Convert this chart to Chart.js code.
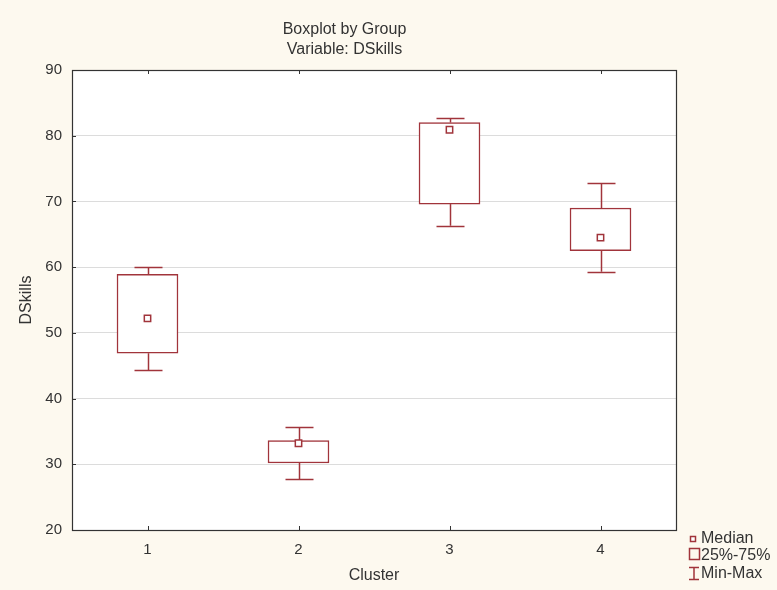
<!DOCTYPE html>
<html>
<head>
<meta charset="utf-8">
<script src="https://cdn.jsdelivr.net/npm/chart.js@4/dist/chart.umd.min.js"></script>
<style>
  html, body { margin: 0; padding: 0; background: #fdf9ef; }
  #wrap { width: 777px; height: 590px; position: relative; }
</style>
</head>
<body>
<div id="wrap"><canvas id="box"></canvas></div>
<script>
// ───── Boxplot by Group: DSkills per cluster ─────────────────────────────────
// Floating bars give the 25%-75% boxes, a point dataset gives the medians and a
// small plugin draws the min-max whiskers through the chart's own scales.

const CLUSTERS = ['1', '2', '3', '4'];
const MIN_VALS = [44.3, 27.7, 66.3, 59.3];
const Q1_VALS = [46.9, 30.2, 69.6, 62.5];
const MEDIAN_VALS = [52.2, 33.2, 80.9, 64.5];
const Q3_VALS = [58.9, 33.6, 82.0, 69.0];
const MAX_VALS = [60.0, 35.6, 82.7, 72.8];
const Y_TICKS = [20, 30, 40, 50, 60, 70, 80, 90];

const RED = '#a1343b';
const INK = '#333333';
const FONT = '"Liberation Sans", Arial, sans-serif';

// Background, white plot area, frame, inward tick marks and whiskers.
const framePlugin = {
  id: 'frame',
  beforeDraw(chart) {
    const { ctx, chartArea: a } = chart;
    ctx.save();
    ctx.fillStyle = '#fdf9ef';
    ctx.fillRect(0, 0, chart.width, chart.height);
    ctx.fillStyle = '#ffffff';
    ctx.fillRect(a.left, a.top, a.right - a.left, a.bottom - a.top);
    ctx.restore();
  },
  beforeDatasetsDraw(chart) {
    const { ctx, scales: { x, y } } = chart;
    ctx.save();
    ctx.strokeStyle = RED;
    ctx.lineWidth = 1.5;
    CLUSTERS.forEach((c, i) => {
      const px = Math.round(x.getPixelForValue(i)) + 0.5;
      const seg = (v0, v1) => {
        ctx.beginPath();
        ctx.moveTo(px, y.getPixelForValue(v0));
        ctx.lineTo(px, y.getPixelForValue(v1));
        ctx.stroke();
      };
      const cap = (v) => {
        const py = Math.round(y.getPixelForValue(v)) + 0.5;
        ctx.beginPath();
        ctx.moveTo(px - 14, py);
        ctx.lineTo(px + 14, py);
        ctx.stroke();
      };
      seg(Q3_VALS[i], MAX_VALS[i]);
      seg(MIN_VALS[i], Q1_VALS[i]);
      cap(MAX_VALS[i]);
      cap(MIN_VALS[i]);
    });
    ctx.restore();
  },
  afterDraw(chart) {
    const { ctx, chartArea: a, scales: { x, y } } = chart;
    ctx.save();
    ctx.strokeStyle = INK;
    ctx.lineWidth = 1.2;
    ctx.strokeRect(Math.round(a.left) + 0.5, Math.round(a.top) + 0.5,
      Math.round(a.right - a.left), Math.round(a.bottom - a.top));
    ctx.lineWidth = 1;
    ctx.beginPath();
    CLUSTERS.forEach((c, i) => {
      const px = Math.round(x.getPixelForValue(i)) + 0.5;
      ctx.moveTo(px, a.top); ctx.lineTo(px, a.top + 4);
      ctx.moveTo(px, a.bottom); ctx.lineTo(px, a.bottom - 4);
    });
    Y_TICKS.forEach((v) => {
      const py = Math.round(y.getPixelForValue(v)) + 0.5;
      ctx.moveTo(a.left, py); ctx.lineTo(a.left + 4, py);
    });
    ctx.stroke();

    // Legend, bottom right
    const lx = 689;
    ctx.strokeStyle = RED;
    ctx.lineWidth = 1.5;
    ctx.fillStyle = '#ffffff';
    ctx.fillRect(690, 536, 5, 5);
    ctx.strokeRect(690.5, 536.5, 5, 5);
    ctx.strokeRect(lx + 0.5, 548.5, 10, 11);
    ctx.beginPath();
    ctx.moveTo(lx, 567.5); ctx.lineTo(lx + 10, 567.5);
    ctx.moveTo(lx + 5, 567.5); ctx.lineTo(lx + 5, 579.5);
    ctx.moveTo(lx, 579.5); ctx.lineTo(lx + 10, 579.5);
    ctx.stroke();
    ctx.fillStyle = INK;
    ctx.font = '16px ' + FONT;
    ctx.textBaseline = 'middle';
    ctx.textAlign = 'left';
    ctx.fillText('Median', 701, 539);
    ctx.fillText('25%-75%', 701, 556);
    ctx.fillText('Min-Max', 701, 574);
    ctx.restore();
  },
};

new Chart(document.getElementById('box'), {
  type: 'bar',
  data: {
    labels: CLUSTERS,
    datasets: [
      {
        type: 'line',
        label: 'Median',
        data: MEDIAN_VALS,
        showLine: false,
        pointStyle: 'rect',
        pointRadius: 4.5,
        pointBorderWidth: 1.5,
        pointBorderColor: RED,
        pointBackgroundColor: '#ffffff',
        order: 0,
      },
      {
        label: '25%-75%',
        data: CLUSTERS.map((c, i) => [Q1_VALS[i], Q3_VALS[i]]),
        backgroundColor: '#ffffff',
        borderColor: RED,
        borderWidth: 1.5,
        borderSkipped: false,
        barThickness: 61,
        order: 1,
      },
    ],
  },
  options: {
    responsive: true,
    maintainAspectRatio: false,
    animation: false,
    layout: { padding: { top: 0, right: 101, bottom: 1, left: 13 } },
    plugins: {
      legend: { display: false },
      tooltip: { enabled: false },
      title: {
        display: true,
        text: ['Boxplot by Group', 'Variable: DSkills'],
        color: INK,
        font: { family: FONT, size: 16, weight: 'normal', lineHeight: 1.25 },
        padding: { top: 20, bottom: 10 },
      },
    },
    scales: {
      x: {
        type: 'category',
        offset: true,
        grid: { display: false },
        border: { display: false },
        ticks: { color: INK, padding: 3, font: { family: FONT, size: 15 } },
        title: { display: true, text: 'Cluster', color: INK, font: { family: FONT, size: 16 } },
        afterFit: (axis) => { axis.height = 59; },
      },
      y: {
        min: 20,
        max: 90,
        afterBuildTicks: (axis) => { axis.ticks = Y_TICKS.map((v) => ({ value: v })); },
        grid: { color: '#dcdcdc', drawTicks: false },
        border: { display: false },
        ticks: { color: INK, padding: 10, font: { family: FONT, size: 15 } },
        title: { display: true, text: 'DSkills', color: INK, font: { family: FONT, size: 16 } },
        afterFit: (axis) => { axis.width = 59; },
      },
    },
  },
  plugins: [framePlugin],
});
</script>
</body>
</html>
